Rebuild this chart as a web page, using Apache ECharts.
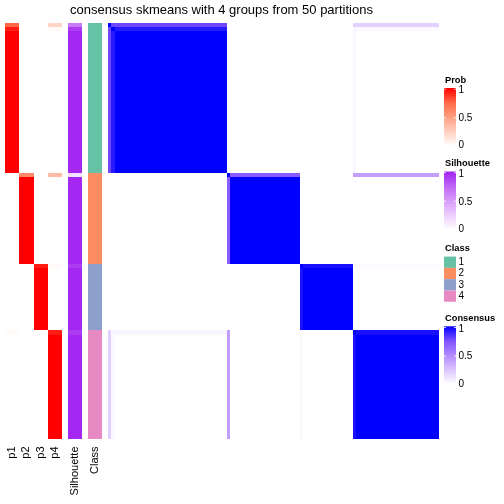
<!DOCTYPE html>
<html><head><meta charset="utf-8">
<script src="https://cdn.jsdelivr.net/npm/echarts@6/dist/echarts.min.js"></script>
<style>html,body{margin:0;padding:0;background:#fff}#c{width:504px;height:504px}</style>
</head><body><div id="c"></div>
<script>
const chartTitle = 'consensus skmeans with 4 groups from 50 partitions';
const probLabels = ['p1', 'p2', 'p3', 'p4'];
const annoLabels = ['Silhouette', 'Class'];
const classNames = ['1', '2', '3', '4'];
const classColors = ['#66c2a5', '#fc8d62', '#8da0cb', '#e78ac3'];
const legendTickLabels = ['1', '0.5', '0'];

// sample class (ordered as in the heatmap rows/columns)
const sampleClass = [
  1,1,1,1,1,1,1,1,1,1, 1,1,1,1,1,1,1,1,1,1, 1,1,1,1,1,1,1,1,1,1, 1,1,1,1,1,1,
  2,2,2,2,2,2,2,2,2,2, 2,2,2,2,2,2,2,2,2,2, 2,2,
  3,3,3,3,3,3,3,3,3,3, 3,3,3,3,3,3,
  4,4,4,4,4,4,4,4,4,4, 4,4,4,4,4,4,4,4,4,4, 4,4,4,4,4,4
];
const p1 = [
  0.75,0.93,1,1,1,1,1,1,1,1, 1,1,1,1,1,1,1,1,1,1, 1,1,1,1,1,1,1,1,1,1, 1,1,1,1,1,1,
  0,0,0,0,0,0,0,0,0,0, 0,0,0,0,0,0,0,0,0,0, 0,0,
  0,0,0,0,0,0,0,0,0,0, 0,0,0,0,0,0,
  0.03,0,0,0,0,0,0,0,0,0, 0,0,0,0,0,0,0,0,0,0, 0,0,0,0,0,0
];
const p2 = [
  0,0,0,0,0,0,0,0,0,0, 0,0,0,0,0,0,0,0,0,0, 0,0,0,0,0,0,0,0,0,0, 0,0,0,0,0,0,
  0.6,1,1,1,1,1,1,1,1,1, 1,1,1,1,1,1,1,1,1,1, 1,1,
  0,0,0,0,0,0,0,0,0,0, 0,0,0,0,0,0,
  0,0,0,0,0,0,0,0,0,0, 0,0,0,0,0,0,0,0,0,0, 0,0,0,0,0,0
];
const p3 = [
  0,0,0,0,0,0,0,0,0,0, 0,0,0,0,0,0,0,0,0,0, 0,0,0,0,0,0,0,0,0,0, 0,0,0,0,0,0,
  0,0,0,0,0,0,0,0,0,0, 0,0,0,0,0,0,0,0,0,0, 0,0,
  0.93,1,1,1,1,1,1,1,1,1, 1,1,1,1,1,1,
  0,0,0,0,0,0,0,0,0,0, 0,0,0,0,0,0,0,0,0,0, 0,0,0,0,0,0
];
const p4 = [
  0.22,0.03,0,0,0,0,0,0,0,0, 0,0,0,0,0,0,0,0,0,0, 0,0,0,0,0,0,0,0,0,0, 0,0,0,0,0,0,
  0.35,0,0,0,0,0,0,0,0,0, 0,0,0,0,0,0,0,0,0,0, 0,0,
  0.03,0,0,0,0,0,0,0,0,0, 0,0,0,0,0,0,
  0.93,1,1,1,1,1,1,1,1,1, 1,1,1,1,1,1,1,1,1,1, 1,1,1,1,1,1
];
const silhouette = [
  0.65,0.9,0.97,0.97,0.97,0.97,0.97,0.97,0.97,0.97, 0.97,0.97,0.97,0.97,0.97,0.97,0.97,0.97,0.97,0.97,
  0.97,0.97,0.97,0.97,0.97,0.97,0.97,0.97,0.97,0.97, 0.97,0.97,0.97,0.97,0.97,0.97,
  0.15,0.97,0.97,0.97,0.97,0.97,0.97,0.97,0.97,0.97, 0.97,0.97,0.97,0.97,0.97,0.97,0.97,0.97,0.97,0.97, 0.97,0.97,
  0.9,0.97,0.97,0.97,0.97,0.97,0.97,0.97,0.97,0.97, 0.97,0.97,0.97,0.97,0.97,0.97,
  0.9,0.97,0.97,0.97,0.97,0.97,0.97,0.97,0.97,0.97, 0.97,0.97,0.97,0.97,0.97,0.97,0.97,0.97,0.97,0.97,
  0.97,0.97,0.97,0.97,0.97,0.97
];
// consensus of each sample with the members of each class
const cons1 = [
  0.78,0.92,1,1,1,1,1,1,1,1, 1,1,1,1,1,1,1,1,1,1, 1,1,1,1,1,1,1,1,1,1, 1,1,1,1,1,1,
  0,0,0,0,0,0,0,0,0,0, 0,0,0,0,0,0,0,0,0,0, 0,0,
  0,0,0,0,0,0,0,0,0,0, 0,0,0,0,0,0,
  0.04,0,0,0,0,0,0,0,0,0, 0,0,0,0,0,0,0,0,0,0, 0,0,0,0,0,0
];
const cons2 = [
  0,0,0,0,0,0,0,0,0,0, 0,0,0,0,0,0,0,0,0,0, 0,0,0,0,0,0,0,0,0,0, 0,0,0,0,0,0,
  0.7,1,1,1,1,1,1,1,1,1, 1,1,1,1,1,1,1,1,1,1, 1,1,
  0,0,0,0,0,0,0,0,0,0, 0,0,0,0,0,0,
  0,0,0,0,0,0,0,0,0,0, 0,0,0,0,0,0,0,0,0,0, 0,0,0,0,0,0
];
const cons3 = [
  0,0,0,0,0,0,0,0,0,0, 0,0,0,0,0,0,0,0,0,0, 0,0,0,0,0,0,0,0,0,0, 0,0,0,0,0,0,
  0,0,0,0,0,0,0,0,0,0, 0,0,0,0,0,0,0,0,0,0, 0,0,
  0.95,1,1,1,1,1,1,1,1,1, 1,1,1,1,1,1,
  0,0,0,0,0,0,0,0,0,0, 0,0,0,0,0,0,0,0,0,0, 0,0,0,0,0,0
];
const cons4 = [
  0.2,0.03,0,0,0,0,0,0,0,0, 0,0,0,0,0,0,0,0,0,0, 0,0,0,0,0,0,0,0,0,0, 0,0,0,0,0,0,
  0.42,0,0,0,0,0,0,0,0,0, 0,0,0,0,0,0,0,0,0,0, 0,0,
  0.02,0,0,0,0,0,0,0,0,0, 0,0,0,0,0,0,
  0.95,1,1,1,1,1,1,1,1,1, 1,1,1,1,1,1,1,1,1,1, 1,1,1,1,1,1
];

const redRamp = ['#ffffff', '#ffcfbf', '#ff9e81', '#ff6846', '#ff0000'];
const purpleRamp = ['#ffffff', '#edcdfd', '#d79bfa', '#be66f5', '#a020f0'];
const blueRamp = ['#ffffff', '#dcc4ff', '#b38bff', '#7e51ff', '#0000ff'];

const FONT = '"Liberation Sans", Arial, Helvetica, sans-serif';
const ids = sampleClass.map((_, i) => 's' + i);
const probs = [p1, p2, p3, p4];
const cons = [cons1, cons2, cons3, cons4];

const probData = [];
probs.forEach((arr, c) => arr.forEach((v, i) => probData.push([c, i, v])));
const silData = silhouette.map((v, i) => [0, i, v]);
const classData = sampleClass.map((v, i) => [0, i, v]);
const consData = [];
for (let i = 0; i < ids.length; i++) {
  for (let j = 0; j < ids.length; j++) {
    let v;
    if (i === j) v = 1;
    else {
      const base = sampleClass[i] === sampleClass[j] ? 1 : 0;
      const a = cons[sampleClass[j] - 1][i];
      const b = cons[sampleClass[i] - 1][j];
      v = Math.abs(a - base) >= Math.abs(b - base) ? a : b;
    }
    consData.push([j, i, v]);
  }
}

const TOP = 23, H = 415.5;
const grids = [
  { left: 5, top: TOP, width: 57, height: H },
  { left: 68, top: TOP, width: 14, height: H },
  { left: 88, top: TOP, width: 14, height: H },
  { left: 108, top: TOP, width: 330.5, height: H }
];
const labelStyle = { rotate: 90, margin: 8, fontSize: 11, color: '#000', fontFamily: FONT, interval: 0 };
const xAxes = [
  { data: probLabels },
  { data: [annoLabels[0]] },
  { data: [annoLabels[1]] },
  { data: ids, show: false }
].map((a, k) => Object.assign({
  gridIndex: k, type: 'category',
  axisLine: { show: false }, axisTick: { show: false }, splitLine: { show: false },
  axisLabel: labelStyle
}, a));
const yAxes = grids.map((_, k) => ({ gridIndex: k, type: 'category', data: ids, inverse: true, show: false }));

function cellRender(params, api) {
  const p = api.coord([api.value(0), api.value(1)]);
  const s = api.size([1, 1]);
  const x0 = Math.round(p[0] - s[0] / 2), x1 = Math.round(p[0] + s[0] / 2);
  const y0 = Math.round(p[1] - s[1] / 2), y1 = Math.round(p[1] + s[1] / 2);
  return { type: 'rect', shape: { x: x0, y: y0, width: x1 - x0, height: y1 - y0 }, style: { fill: api.visual('color') } };
}
function hm(k, data) {
  return { type: 'custom', xAxisIndex: k, yAxisIndex: k, data, renderItem: cellRender, silent: true, progressive: 0, encode: { x: 0, y: 1 } };
}

// legends (graphic)
const gfx = [];
gfx.push({ type: 'text', x: 221.5, y: 10, style: { text: chartTitle, font: '13px ' + FONT, fill: '#000', align: 'center', verticalAlign: 'middle' } });
function ramp(colors) {
  return { type: 'linear', x: 0, y: 0, x2: 0, y2: 1, colorStops: colors.slice().reverse().map((c, i) => ({ offset: i / (colors.length - 1), color: c })) };
}
function colorLegend(name, y0, colors) {
  gfx.push({ type: 'text', x: 445, y: y0, style: { text: name, font: 'bold 9.3px ' + FONT, fill: '#000', align: 'left', verticalAlign: 'middle' } });
  gfx.push({ type: 'rect', shape: { x: 444, y: y0 + 8, width: 12, height: 58 }, style: { fill: ramp(colors) } });
  [1.2, 29.7].forEach(dy => {
    gfx.push({ type: 'line', shape: { x1: 444, y1: y0 + 8 + dy, x2: 446, y2: y0 + 8 + dy }, style: { stroke: 'rgba(255,255,255,0.8)', lineWidth: 1 } });
    gfx.push({ type: 'line', shape: { x1: 454, y1: y0 + 8 + dy, x2: 456, y2: y0 + 8 + dy }, style: { stroke: 'rgba(255,255,255,0.8)', lineWidth: 1 } });
  });
  [10.7, 38.3, 65.7].forEach((dy, i) => {
    gfx.push({ type: 'text', x: 458.5, y: y0 + dy, style: { text: legendTickLabels[i], font: '10px ' + FONT, fill: '#000', align: 'left', verticalAlign: 'middle' } });
  });
}
colorLegend('Prob', 80, redRamp);
colorLegend('Silhouette', 163.5, purpleRamp);
colorLegend('Consensus', 318.3, blueRamp);
gfx.push({ type: 'text', x: 445, y: 248, style: { text: 'Class', font: 'bold 9.3px ' + FONT, fill: '#000', align: 'left', verticalAlign: 'middle' } });
classNames.forEach((n, i) => {
  const yc = 262.2 + i * 11.3;
  gfx.push({ type: 'rect', shape: { x: 444, y: yc - 5.65, width: 12, height: 11.3 }, style: { fill: classColors[i] } });
  gfx.push({ type: 'text', x: 458.5, y: yc, style: { text: n, font: '10px ' + FONT, fill: '#000', align: 'left', verticalAlign: 'middle' } });
});

const option = {
  animation: false,
  backgroundColor: '#fff',
  grid: grids,
  xAxis: xAxes,
  yAxis: yAxes,
  visualMap: [
    { type: 'continuous', seriesIndex: 0, dimension: 2, min: 0, max: 1, show: false, inRange: { color: redRamp } },
    { type: 'continuous', seriesIndex: 1, dimension: 2, min: 0, max: 1, show: false, inRange: { color: purpleRamp } },
    { type: 'piecewise', seriesIndex: 2, dimension: 2, show: false, pieces: classNames.map((n, i) => ({ value: i + 1, color: classColors[i] })) },
    { type: 'continuous', seriesIndex: 3, dimension: 2, min: 0, max: 1, show: false, inRange: { color: blueRamp } }
  ],
  series: [hm(0, probData), hm(1, silData), hm(2, classData), hm(3, consData)],
  graphic: { elements: gfx }
};
const chart = echarts.init(document.getElementById('c'), null, { renderer: 'canvas' });
chart.setOption(option);
</script></body></html>
